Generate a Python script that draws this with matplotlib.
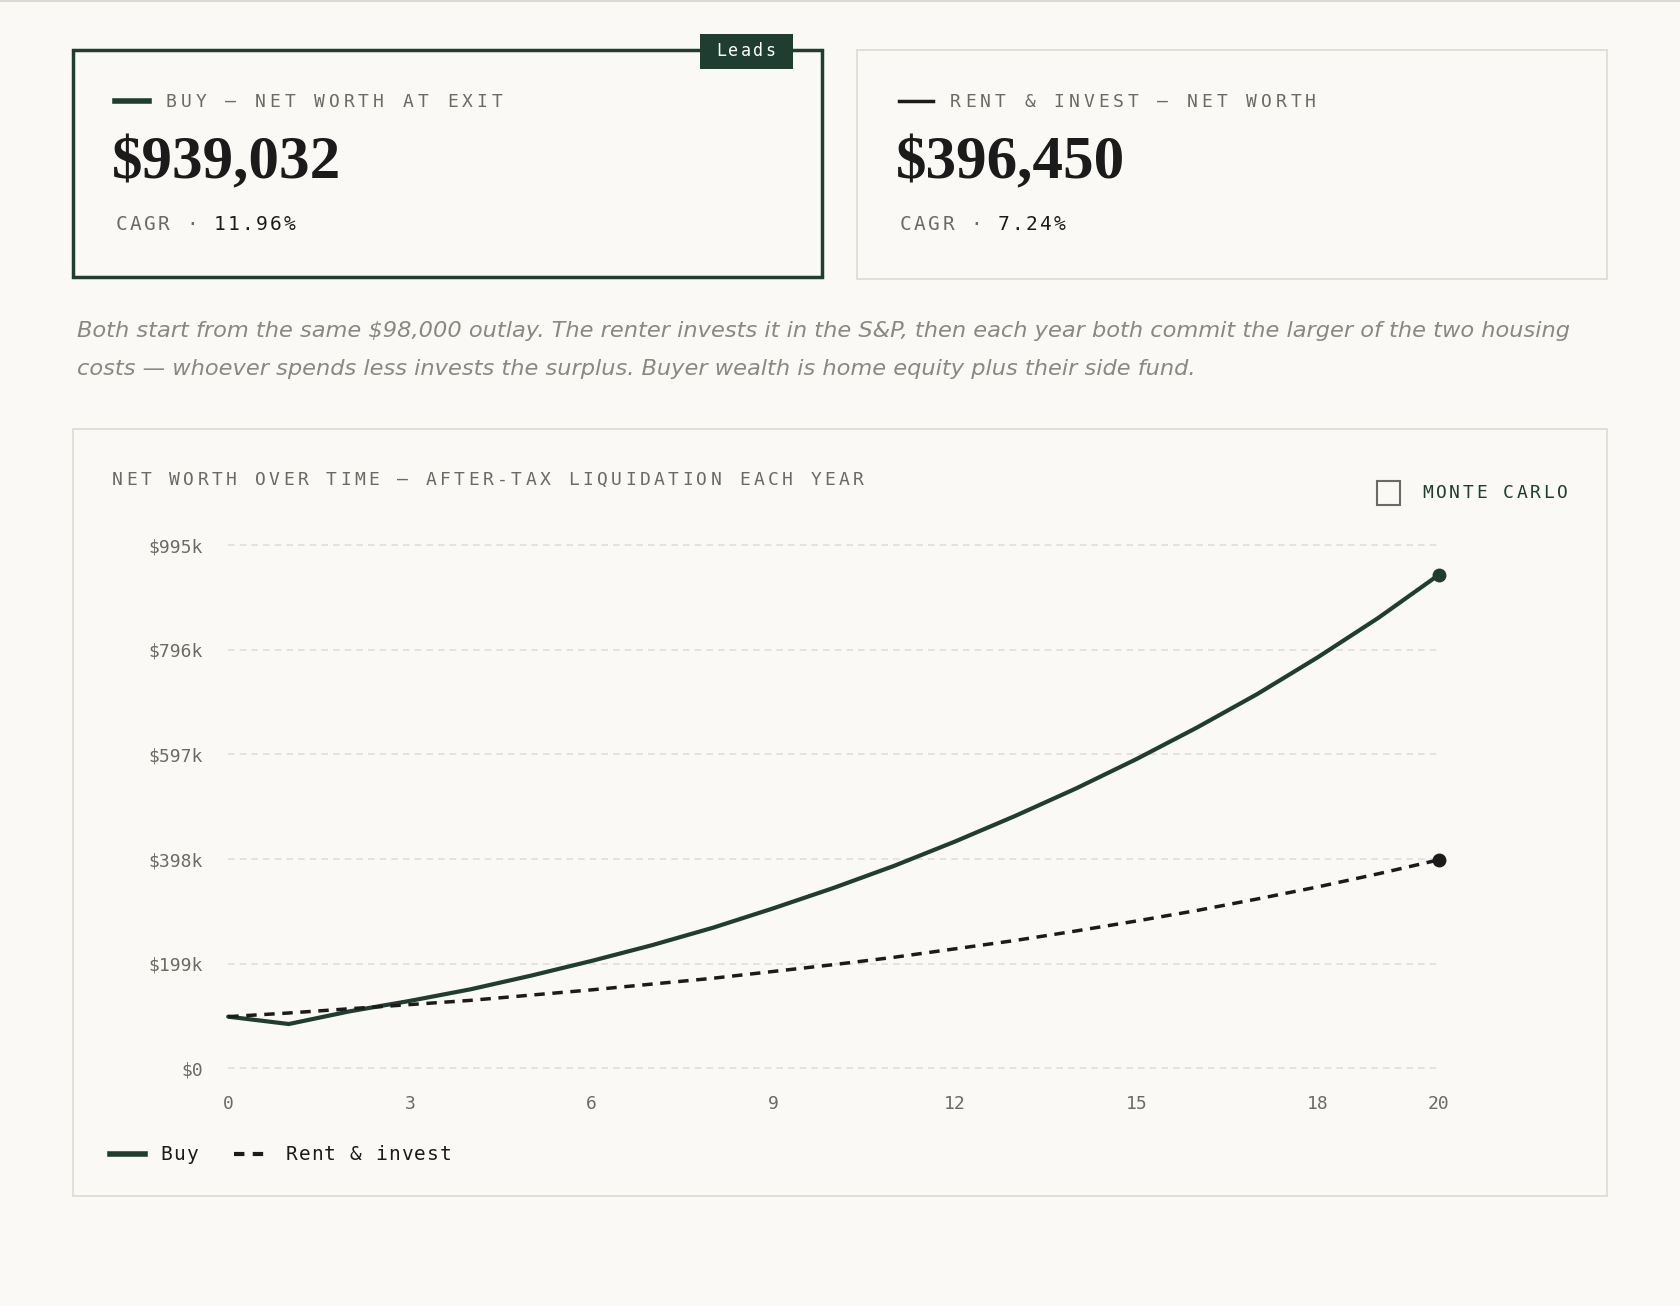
import matplotlib
matplotlib.use("Agg")
import matplotlib.pyplot as plt
from matplotlib.patches import Rectangle
from matplotlib.lines import Line2D

years = list(range(21))
buy = [98, 84, 108, 128, 150, 176, 204, 234, 267, 304, 343, 385, 431, 480, 532, 588, 648, 712, 782, 857, 939.032]
rent = [98, 105, 113, 121, 129, 139, 149, 160, 171, 184, 197, 211, 227, 243, 261, 280, 300, 322, 345, 370, 396.45]
yticks = [0, 199, 398, 597, 796, 995]
ylabels = ["$0", "$199k", "$398k", "$597k", "$796k", "$995k"]
xticks = [0, 3, 6, 9, 12, 15, 18, 20]

BG = "#faf9f5"; GREEN = "#1f3d30"; GREY = "#6b6b66"; BORDER = "#dcdad3"; INK = "#1b1b1b"
W, H = 1568, 1219
fig = plt.figure(figsize=(16.8, 13.06), dpi=100, facecolor=BG)

def fx(x): return x / W
def fy(y): return 1 - y / H
def box(x0, y0, x1, y1, ec, lw, fc="none"):
    fig.add_artist(Rectangle((fx(x0), fy(y1)), fx(x1) - fx(x0), fy(y0) - fy(y1),
                             transform=fig.transFigure, fill=(fc != "none"), fc=fc, ec=ec, lw=lw))
def txt(x, y, s, **kw):
    fig.text(fx(x), fy(y), s, **kw)
def spaced(x, y, s, pitch, color, size):
    for i, c in enumerate(s):
        if c != " ":
            fig.text(fx(x + i * pitch + pitch / 2), fy(y), c, color=color, fontsize=size,
                     family="DejaVu Sans Mono", ha="center", va="center")

fig.add_artist(Line2D([0, 1], [fy(1), fy(1)], transform=fig.transFigure, color=BORDER, lw=1.5))
box(68, 47, 767, 259, GREEN, 2.5)
box(800, 47, 1500, 260, BORDER, 1.2)
box(653, 32, 740, 64, GREEN, 0, fc=GREEN)
spaced(667, 48, "Leads", 11.5, "white", 12)
fig.add_artist(Line2D([fx(107), fx(139)], [fy(94)] * 2, transform=fig.transFigure, color=GREEN, lw=4))
spaced(153, 95, "BUY — NET WORTH AT EXIT", 13.8, GREY, 13)
fig.add_artist(Line2D([fx(839), fx(871)], [fy(94)] * 2, transform=fig.transFigure, color=INK, lw=2.5))
spaced(885, 95, "RENT & INVEST — NET WORTH", 13.8, GREY, 13)
serif = dict(family="Liberation Serif", fontweight="bold", va="center", color=INK)
txt(104, 153, f"${buy[-1]*1000:,.0f}", fontsize=44, **serif)
txt(836, 153, f"${rent[-1]*1000:,.0f}", fontsize=44, **serif)
spaced(107, 210, "CAGR · ", 13.1, GREY, 14)
spaced(198, 210, "11.96%", 13.1, INK, 14)
spaced(839, 210, "CAGR · ", 13.1, GREY, 14)
spaced(930, 210, "7.24%", 13.1, INK, 14)
txt(72, 309, "Both start from the same $98,000 outlay. The renter invests it in the S&P, then each year both commit the larger of the two housing",
    color="#8a8882", fontsize=16.2, style="italic", va="center")
txt(72, 344, "costs — whoever spends less invests the surplus. Buyer wealth is home equity plus their side fund.",
    color="#8a8882", fontsize=16.2, style="italic", va="center")
box(68, 400, 1500, 1116, BORDER, 1.2)
spaced(103, 448, "NET WORTH OVER TIME — AFTER-TAX LIQUIDATION EACH YEAR", 13.3, GREY, 13)
fig.add_artist(Rectangle((fx(1285), fy(471)), fx(22), fy(449) - fy(471), transform=fig.transFigure,
                         fill=False, ec=GREY, lw=1.5))
spaced(1326, 460, "MONTE CARLO", 12.6, GREEN, 13)

ax = fig.add_axes([fx(213), fy(997), fx(1343) - fx(213), fy(509) - fy(997)])
ax.set_facecolor(BG)
ax.plot(years, buy, color=GREEN, lw=3, solid_capstyle="round")
ax.plot(years, rent, color=INK, lw=2.5, ls=(0, (3, 2.2)))
ax.plot([20], [buy[-1]], "o", color=GREEN, ms=9)
ax.plot([20], [rent[-1]], "o", color=INK, ms=9)
ax.set_xlim(0, 20); ax.set_ylim(0, 995)
ax.set_yticks(yticks); ax.set_yticklabels(ylabels)
ax.set_xticks(xticks)
for t in yticks:
    ax.axhline(t, color="#e0ded7", lw=1.2, ls=(0, (4, 3)), zorder=0)
for s in ax.spines.values(): s.set_visible(False)
ax.tick_params(length=0, labelsize=13, labelcolor=GREY)
ax.tick_params(axis="x", pad=19)
ax.tick_params(axis="y", pad=18)
for lab in ax.get_xticklabels() + ax.get_yticklabels():
    lab.set_family("DejaVu Sans Mono")
for l in ax.lines: l.set_clip_on(False)

fig.add_artist(Line2D([fx(103), fx(135)], [fy(1077)] * 2, transform=fig.transFigure, color=GREEN, lw=4))
spaced(149, 1078, "Buy", 12, INK, 14)
fig.add_artist(Line2D([fx(218), fx(252)], [fy(1077)] * 2, transform=fig.transFigure, color=INK, lw=3, ls=(0, (2.5, 2))))
spaced(266, 1078, "Rent & invest", 12, INK, 14)

fig.savefig("out.png", dpi=100, facecolor=BG)
